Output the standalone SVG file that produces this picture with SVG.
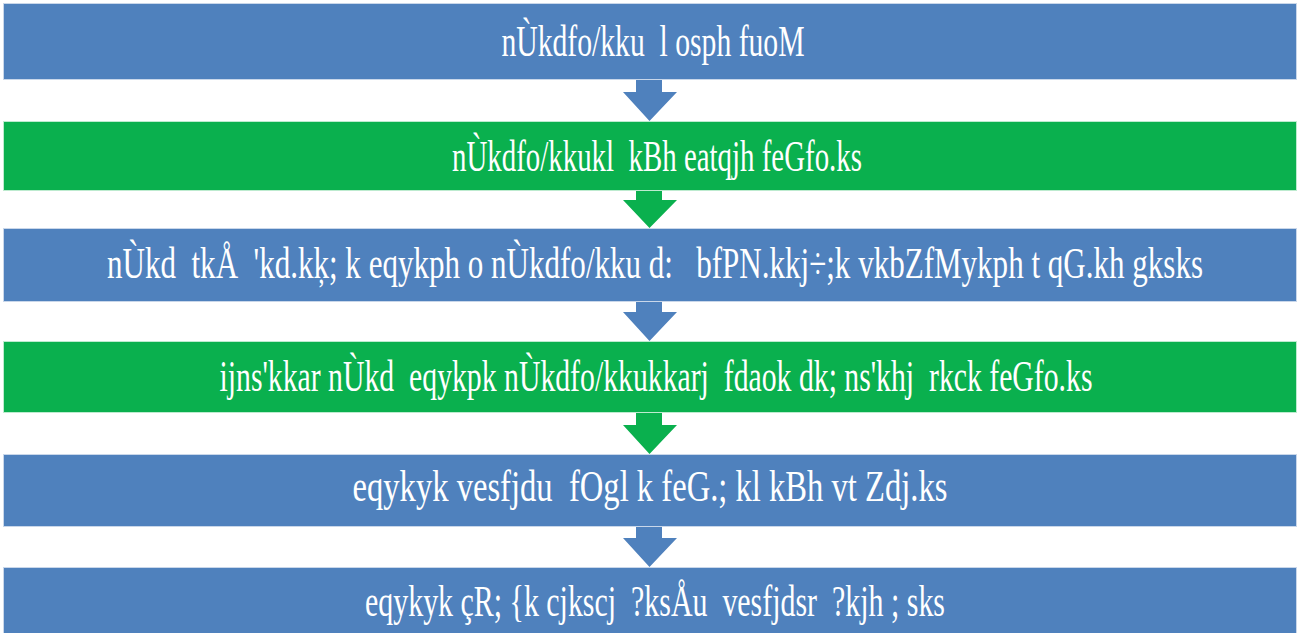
<svg xmlns="http://www.w3.org/2000/svg" width="1308" height="633" viewBox="0 0 1308 633">
<style>
.blue{fill:#4F81BD;stroke:#C9D7EA;stroke-width:1}
.green{fill:#0AB04E;stroke:#BDEBCF;stroke-width:1}
.ab{fill:#4F81BD}
.ag{fill:#0AB04E}
text{font-family:"Liberation Serif","Times New Roman",serif;font-size:44px;fill:#FFFFFF;text-anchor:middle;white-space:pre}
</style>
<rect width="1308" height="633" fill="#FFFFFF"/>
<g id="node1"><rect class="blue" x="3.5" y="3.5" width="1293" height="76"/><text x="653" y="56" textLength="303" lengthAdjust="spacingAndGlyphs">nÙkdfo/kku  l osph fuoM</text></g>
<g id="node2"><rect class="green" x="3.5" y="121.5" width="1293" height="69"/><text x="657" y="171" textLength="410" lengthAdjust="spacingAndGlyphs">nÙkdfo/kkukl  kBh eatqjh feGfo.ks</text></g>
<g id="node3"><rect class="blue" x="3.5" y="228.5" width="1293" height="73"/><text x="655" y="278" textLength="1096" lengthAdjust="spacingAndGlyphs">nÙkd  tkÅ  'kd.kķ; k eqykph o nÙkdfo/kku d:   bfPN.kkj÷;k vkbZfMykph t qG.kh gksks</text></g>
<g id="node4"><rect class="green" x="3.5" y="341.5" width="1293" height="71"/><text x="656" y="391" textLength="873" lengthAdjust="spacingAndGlyphs">ijns'kkar nÙkd  eqykpk nÙkdfo/kkukkarj  fdaok dk; ns'khj  rkck feGfo.ks</text></g>
<g id="node5"><rect class="blue" x="3.5" y="454.5" width="1293" height="72"/><text x="650" y="501" textLength="595" lengthAdjust="spacingAndGlyphs">eqykyk vesfjdu  fOgl k feG.; kl kBh vt Zdj.ks</text></g>
<g id="node6"><rect class="blue" x="3.5" y="567.5" width="1293" height="66"/><text x="655" y="616" textLength="580" lengthAdjust="spacingAndGlyphs">eqykyk çR; {k cjkscj  ?ksÅu  vesfjdsr  ?kjh ; sks</text></g>
<g id="connectors">
<path class="ab" d="M636 80 H662 V92 H677 L649.5 121 L623 92 H636 Z"/>
<path class="ag" d="M636 191 H662 V200 H677 L649.5 228 L623 200 H636 Z"/>
<path class="ab" d="M636 302 H662 V312 H677 L649.5 341 L623 312 H636 Z"/>
<path class="ag" d="M636 413 H662 V425 H677 L649.5 454 L623 425 H636 Z"/>
<path class="ab" d="M636 527 H662 V538 H677 L649.5 567 L623 538 H636 Z"/>
</g>
</svg>
